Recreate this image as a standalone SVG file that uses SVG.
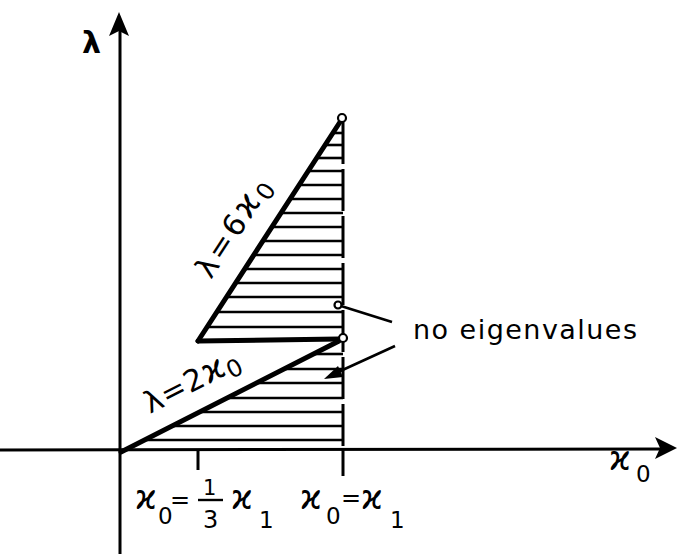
<svg xmlns="http://www.w3.org/2000/svg" width="677" height="554" viewBox="0 0 677 554">
<style>
.ax{stroke:#000;stroke-width:3;fill:none}
.thick{stroke:#000;stroke-width:5;fill:none;stroke-linecap:round}
.hatch{stroke:#000;stroke-width:2.6;fill:none}
.lead{stroke:#000;stroke-width:2.6;fill:none}
.t{font-family:"DejaVu Sans",sans-serif;fill:#000}
.k{font-size:33px}
.s{font-size:23px}
</style>
<rect width="677" height="554" fill="#fff"/>
<g id="axes">
<line class="ax" x1="120" y1="28" x2="120" y2="554"/>
<path d="M119,12 L109,36 L119,31 L129,36 Z" fill="#000"/>
<line class="ax" x1="0" y1="450" x2="665" y2="449"/>
<path d="M677,448 L655,437 L660,448 L655,459 Z" fill="#000"/>
<line class="ax" x1="198" y1="450" x2="198" y2="470"/>
<line class="ax" x1="343" y1="450" x2="343" y2="476"/>
<text class="t" x="82" y="53" font-size="30" font-weight="bold">λ</text>
<text class="t k" x="609" y="470">ϰ</text>
<text class="t s" x="636" y="482">0</text>
</g>
<g id="region-upper">
<g class="hatch">
<line x1="206" y1="327" x2="343" y2="327"/>
<line x1="216" y1="312" x2="343" y2="312"/>
<line x1="226" y1="297" x2="343" y2="297"/>
<line x1="235" y1="283" x2="343" y2="283"/>
<line x1="244" y1="269" x2="343" y2="269"/>
<line x1="253" y1="255" x2="343" y2="255"/>
<line x1="262" y1="241" x2="343" y2="241"/>
<line x1="271" y1="227" x2="343" y2="227"/>
<line x1="280" y1="213" x2="343" y2="213"/>
<line x1="289" y1="199" x2="343" y2="199"/>
<line x1="299" y1="185" x2="343" y2="185"/>
<line x1="308" y1="171" x2="343" y2="171"/>
<line x1="316" y1="158" x2="343" y2="158"/>
<line x1="325" y1="145" x2="343" y2="145"/>
<line x1="333" y1="133" x2="343" y2="133"/>
</g>
<line class="thick" x1="198" y1="341" x2="340" y2="122"/>
<line class="thick" x1="198" y1="341" x2="339" y2="339"/>
<text class="t" font-size="30" letter-spacing="3" transform="translate(211,280) rotate(-57)">λ=6<tspan font-size="34">ϰ</tspan><tspan dy="6" font-size="24">0</tspan></text>
</g>
<g id="region-lower">
<g class="hatch">
<line x1="145" y1="440" x2="343" y2="440"/>
<line x1="172" y1="426" x2="343" y2="426"/>
<line x1="200" y1="412" x2="343" y2="412"/>
<line x1="228" y1="398" x2="343" y2="398"/>
<line x1="257" y1="383" x2="343" y2="383"/>
<line x1="284" y1="369" x2="343" y2="369"/>
<line x1="313" y1="354" x2="343" y2="354"/>
</g>
<line class="thick" x1="121" y1="452" x2="339" y2="341"/>
<text class="t" font-size="30" letter-spacing="1" transform="translate(150,414) rotate(-27)">λ=2<tspan font-size="34">ϰ</tspan><tspan dy="6" font-size="24">0</tspan></text>
</g>
<g id="boundary">
<line x1="343" y1="122" x2="343" y2="450" stroke="#000" stroke-width="3" stroke-dasharray="42 5"/>
<circle cx="342" cy="118" r="4" fill="#fff" stroke="#000" stroke-width="2.2"/>
<circle cx="343" cy="338" r="4" fill="#fff" stroke="#000" stroke-width="2.2"/>
</g>
<g id="label-no-eigenvalues">
<text class="t" x="413" y="339" font-size="27" textLength="224" lengthAdjust="spacing">no eigenvalues</text>
</g>
<g id="connectors">
<line class="lead" x1="392" y1="322" x2="341" y2="306"/>
<circle cx="338" cy="305" r="3.5" fill="#fff" stroke="#000" stroke-width="2.2"/>
<line class="lead" x1="395" y1="346" x2="336" y2="373"/>
<polygon points="324,379 343,377 338,366" fill="#000"/>
</g>
<g id="tick-labels">
<text class="t k" x="135" y="509">ϰ</text>
<text class="t s" x="158" y="524">0</text>
<text class="t" x="170" y="508" font-size="24">=</text>
<text class="t" x="203" y="495" font-size="21">1</text>
<line x1="198" y1="500" x2="223" y2="500" stroke="#000" stroke-width="2.4"/>
<text class="t" x="203" y="528" font-size="24">3</text>
<text class="t k" x="231" y="509">ϰ</text>
<text class="t s" x="259" y="528">1</text>
<text class="t k" x="300" y="509">ϰ</text>
<text class="t s" x="326" y="524">0</text>
<text class="t" x="341" y="506" font-size="24">=</text>
<text class="t k" x="361" y="509">ϰ</text>
<text class="t s" x="390" y="528">1</text>
</g>
</svg>
